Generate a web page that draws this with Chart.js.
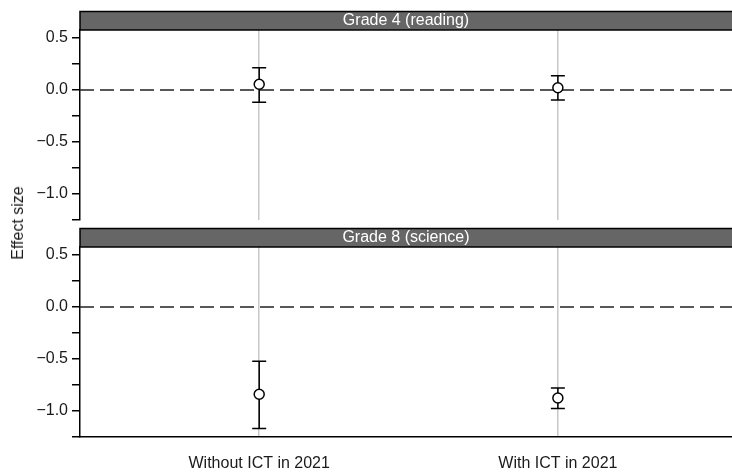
<!DOCTYPE html>
<html><head><meta charset="utf-8">
<script src="https://cdn.jsdelivr.net/npm/chart.js@4"></script>
<style>
html,body{margin:0;padding:0;background:#fff;}
#wrap{position:relative;width:732px;height:473px;overflow:hidden;}
canvas{position:absolute;left:0;}
#ylab{position:absolute;left:18px;top:223px;transform:translate(-50%,-50%) rotate(-90deg);font:16px 'Liberation Sans',Arial,sans-serif;color:#1a1a1a;white-space:nowrap;}
</style></head>
<body><div id="wrap">
<canvas id="c1" width="732" height="224" style="top:0"></canvas>
<canvas id="c2" width="732" height="251" style="top:222px"></canvas>
<div id="ylab">Effect size</div>
</div>
<script>
const categories = ['Without ICT in 2021', 'With ICT in 2021'];
const catPos = [1, 2];
const panelTitles = ['Grade 4 (reading)', 'Grade 8 (science)'];
const g4Est  = [0.055, 0.022];
const g4Low  = [-0.118, -0.096];
const g4High = [0.214, 0.138];
const g8Est  = [-0.839, -0.875];
const g8Low  = [-1.169, -0.977];
const g8High = [-0.522, -0.779];
const yTicks = [-1.25, -1, -0.75, -0.5, -0.25, 0, 0.25, 0.5];
const yMin = -1.25, yMax = 0.577;
const xMin = 0.4, xMax = 2.583;

const FONT = "'Liberation Sans', Arial, sans-serif";
const INK = '#1a1a1a';

function fmt(v){
  if (Math.abs(v*2 - Math.round(v*2)) > 1e-6) return '';
  const s = Math.abs(v).toFixed(1);
  return v < 0 ? '\u2212' + s : s;
}

function makePlugin(title, est, low, high){
  return {
    id: 'panelDeco',
    beforeDatasetsDraw(chart){
      const ctx = chart.ctx, a = chart.chartArea;
      const xs = chart.scales.x, ys = chart.scales.y;
      ctx.save();
      ctx.strokeStyle = '#222';
      ctx.lineWidth = 1.5;
      ctx.setLineDash([14, 6]);
      const y0 = ys.getPixelForValue(0);
      ctx.beginPath(); ctx.moveTo(a.left, y0); ctx.lineTo(a.right, y0); ctx.stroke();
      ctx.setLineDash([]);
      ctx.strokeStyle = '#000';
      ctx.lineWidth = 1.5;
      for (let i = 0; i < catPos.length; i++){
        const x = xs.getPixelForValue(catPos[i]);
        const yl = ys.getPixelForValue(low[i]);
        const yh = ys.getPixelForValue(high[i]);
        ctx.beginPath();
        ctx.moveTo(x, yl); ctx.lineTo(x, yh);
        ctx.moveTo(x - 7, yl); ctx.lineTo(x + 7, yl);
        ctx.moveTo(x - 7, yh); ctx.lineTo(x + 7, yh);
        ctx.stroke();
      }
      ctx.restore();
    },
    afterDraw(chart){
      const ctx = chart.ctx, a = chart.chartArea;
      ctx.save();
      const top = a.top - 18.5;
      ctx.fillStyle = '#666666';
      ctx.fillRect(a.left, top, chart.width - a.left + 2, 18.5);
      ctx.strokeStyle = '#000';
      ctx.lineWidth = 1.5;
      ctx.strokeRect(a.left, top, chart.width - a.left + 4, 18.5);
      ctx.fillStyle = '#ffffff';
      ctx.font = '16px ' + FONT;
      ctx.textAlign = 'center';
      ctx.textBaseline = 'middle';
      ctx.fillText(title, (a.left + a.right) / 2, top + 9.5);
      ctx.restore();
    }
  };
}

function makeChart(id, title, est, low, high, showX){
  const canvas = document.getElementById(id);
  return new Chart(canvas, {
    type: 'scatter',
    data: {
      datasets: [{
        data: catPos.map((x, i) => ({x: x, y: est[i]})),
        pointRadius: 5,
        pointHoverRadius: 5,
        pointBackgroundColor: '#ffffff',
        pointBorderColor: '#000000',
        pointBorderWidth: 1.5
      }]
    },
    options: {
      responsive: false,
      animation: false,
      devicePixelRatio: 1,
      layout: {autoPadding: false, padding: {top: showX ? 25 : 30, left: 0, right: 0, bottom: showX ? 0 : 4}},
      plugins: {legend: {display: false}, tooltip: {enabled: false}},
      scales: {
        x: {
          type: 'linear', min: xMin, max: xMax,
          afterBuildTicks: s => { s.ticks = catPos.map(v => ({value: v})); },
          afterFit: s => { s.height = showX ? 36 : 0; s.paddingLeft = 0; s.paddingRight = 0; },
          grid: {color: '#c8c8c8', lineWidth: 1.5, drawTicks: false},
          border: {display: showX, color: '#000', width: 1.5},
          ticks: {
            display: showX, padding: 17, color: INK, maxRotation: 0,
            font: {family: FONT, size: 16},
            callback: v => categories[catPos.indexOf(v)] || ''
          }
        },
        y: {
          min: yMin, max: yMax,
          afterBuildTicks: s => { s.ticks = yTicks.map(v => ({value: v})); },
          afterFit: s => { s.width = 80; s.paddingTop = 0; s.paddingBottom = 0; },
          grid: {drawOnChartArea: false, drawTicks: true, tickLength: 8, color: '#000', lineWidth: 1.5},
          border: {display: true, color: '#000', width: 1.5},
          ticks: {
            padding: 4, color: INK, font: {family: FONT, size: 16},
            callback: v => fmt(v)
          }
        }
      }
    },
    plugins: [makePlugin(title, est, low, high)]
  });
}

makeChart('c1', panelTitles[0], g4Est, g4Low, g4High, false);
makeChart('c2', panelTitles[1], g8Est, g8Low, g8High, true);
</script>
</body></html>
